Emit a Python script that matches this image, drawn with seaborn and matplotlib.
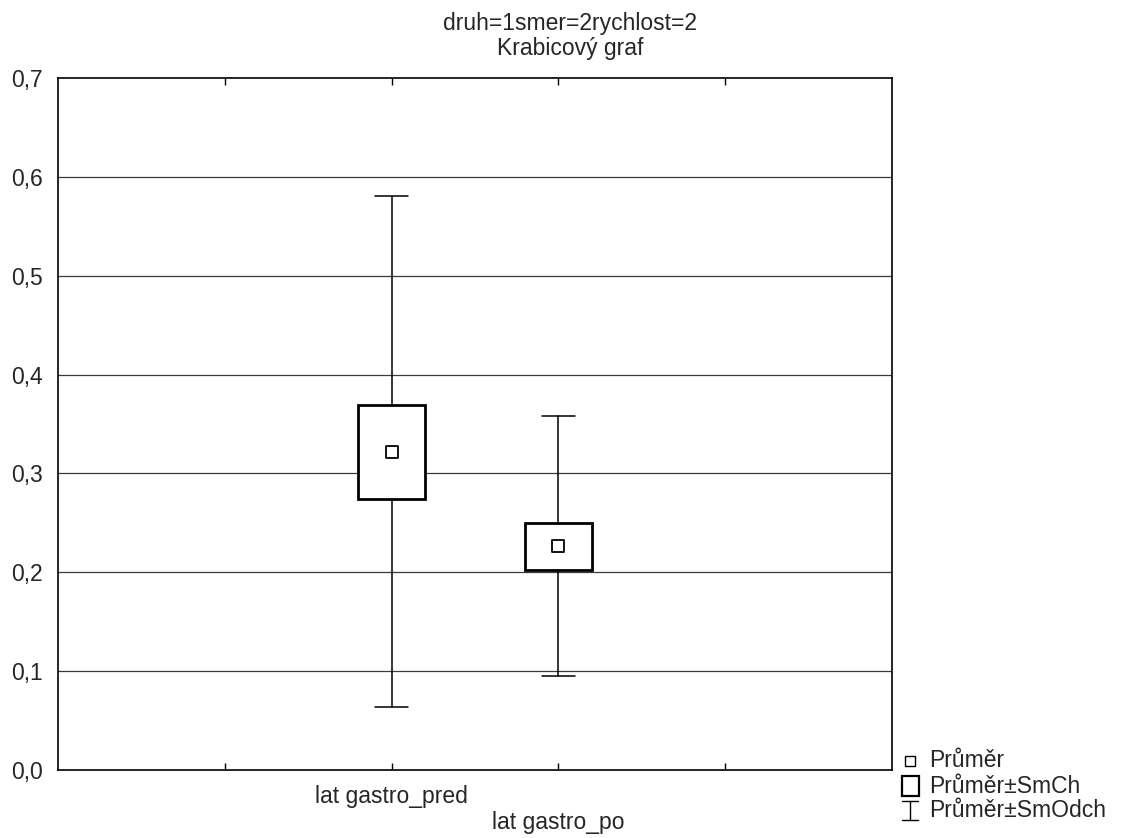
import matplotlib
matplotlib.use("Agg")
import matplotlib.pyplot as plt
import numpy as np
import pandas as pd
import seaborn as sns
from matplotlib.lines import Line2D
from matplotlib.patches import Rectangle

# values (mean, standard error, standard deviation)
variables = ["lat gastro_pred", "lat gastro_po"]
means = [0.322, 0.2265]
std_errs = [0.0476, 0.0238]
std_devs = [0.2585, 0.1318]

y_ticks = [0.0, 0.1, 0.2, 0.3, 0.4, 0.5, 0.6, 0.7]
legend_txt = ["Průměr", "Průměr±SmCh", "Průměr±SmOdch"]

df = pd.DataFrame({"variable": variables, "mean": means, "se": std_errs, "sd": std_devs})

sns.set_theme(style="white")
plt.rcParams["font.family"] = ["Liberation Sans", "DejaVu Sans"]
FS = 16.5

fig = plt.figure(figsize=(11.26, 8.38), dpi=100)
ax = fig.add_axes([0.0515, 0.0811, 0.7405, 0.8258])

# grid lines behind everything
for y in y_ticks[1:-1]:
    ax.axhline(y, color="#3a3a3a", lw=0.9, zorder=0)

xpos = np.arange(len(df))
box_w = 0.4
cap_w = 0.2
for x, row in zip(xpos, df.itertuples()):
    # whisker: mean +- SD
    ax.plot([x, x], [row.mean - row.sd, row.mean + row.sd], color="black", lw=1.1, zorder=2)
    for yy in (row.mean - row.sd, row.mean + row.sd):
        ax.plot([x - cap_w / 2, x + cap_w / 2], [yy, yy], color="black", lw=1.1, zorder=2)
    # box: mean +- SE
    ax.add_patch(Rectangle((x - box_w / 2, row.mean - row.se), box_w, 2 * row.se,
                           facecolor="white", edgecolor="black", lw=2.0, zorder=3))

# mean markers
sns.scatterplot(data=df, x=xpos, y="mean", marker="s", s=80, facecolor="white",
                edgecolor="black", linewidth=1.3, zorder=4, ax=ax, legend=False)

ax.set_xlim(-2, 3)
ax.set_ylim(0, 0.7)
ax.set_xticks([-1, 0, 1, 2])
ax.set_xticklabels(["", variables[0], "\n" + variables[1], ""], fontsize=FS,
                   linespacing=1.15)
ax.set_yticks(y_ticks)
ax.set_yticklabels([f"{v:.1f}".replace(".", ",") for v in y_ticks], fontsize=FS)
ax.tick_params(axis="x", direction="in", length=5, width=1, top=True, bottom=True,
               color="black", pad=11)
ax.tick_params(axis="y", length=0, pad=11)
ax.set_xlabel("")
ax.set_ylabel("")
for sp in ax.spines.values():
    sp.set_visible(True)
    sp.set_color("black")
    sp.set_linewidth(1.2)

fig.text(0.506, 0.972, "druh=1smer=2rychlost=2", ha="center", va="center", fontsize=FS)
fig.text(0.506, 0.942, "Krabicový graf", ha="center", va="center", fontsize=FS)

# legend drawn by hand, like the Statistica legend
legend_y = [0.092, 0.062, 0.033]
for y, t in zip(legend_y, legend_txt):
    fig.text(0.825, y, t, ha="left", va="center", fontsize=FS)

xc = 0.8085
fig.add_artist(Line2D([xc], [legend_y[0]], marker="s", markersize=7, ls="none",
                      markerfacecolor="white", markeredgecolor="black",
                      markeredgewidth=1, transform=fig.transFigure))
fig.add_artist(Rectangle((xc - 0.0075, legend_y[1] - 0.0115), 0.015, 0.023,
                         facecolor="white", edgecolor="black", lw=1.6,
                         transform=fig.transFigure))
fig.add_artist(Line2D([xc, xc], [legend_y[2] - 0.011, legend_y[2] + 0.011], color="black",
                      lw=1, transform=fig.transFigure))
for yy in (legend_y[2] - 0.011, legend_y[2] + 0.011):
    fig.add_artist(Line2D([xc - 0.007, xc + 0.007], [yy, yy], color="black", lw=1,
                          transform=fig.transFigure))

fig.savefig("out.png", dpi=100)
